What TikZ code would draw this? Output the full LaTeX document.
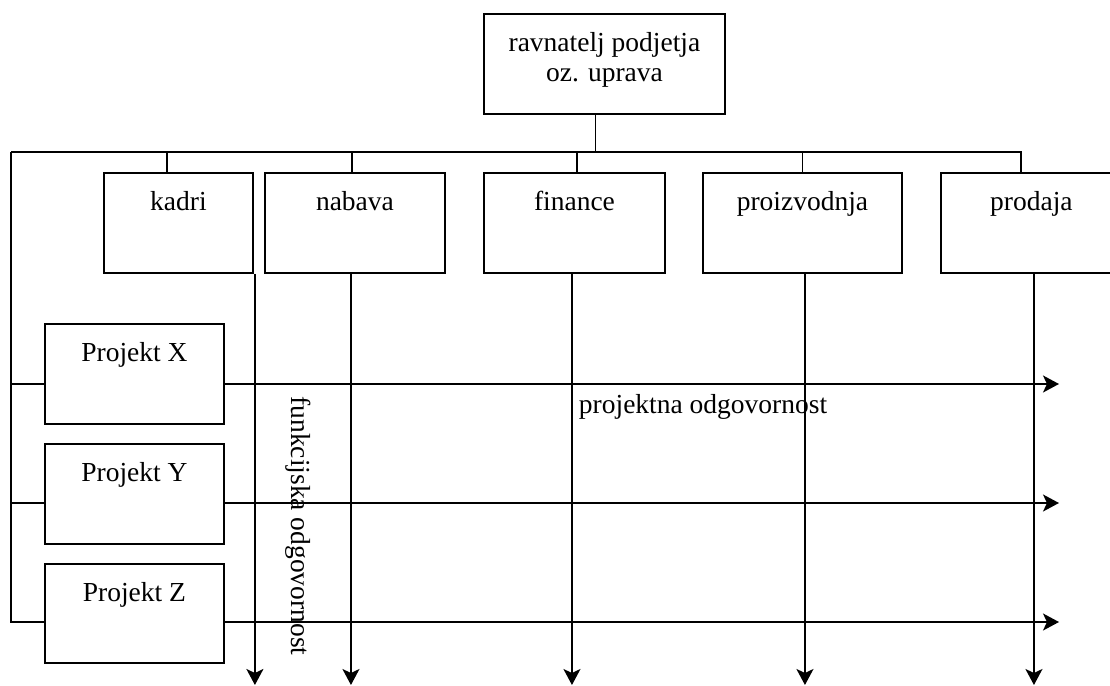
\documentclass[tikz,border=0pt]{standalone}
\usepackage{fontspec}
\setmainfont{Liberation Serif}
\usetikzlibrary{arrows.meta}
\begin{document}
\begin{tikzpicture}[x=1pt,y=-1pt,
  line width=1.9pt,
  unit/.style={draw, rectangle, inner sep=0pt, minimum height=100pt},
  caption/.style={anchor=base, yshift=-38pt, inner sep=0pt, align=center,
    font=\fontsize{27.5}{30.5}\selectfont},
  note/.style={inner sep=0pt, font=\fontsize{27.5}{30.5}\selectfont},
  flow/.style={-{Stealth[length=16pt,width=17pt,inset=4pt]}}]

\clip (0,0) rectangle (1110,685);

% management (base of a two-line caption sits on its last line)
\node[unit, minimum width=241pt, anchor=north west,
  label={[caption, yshift=-30.5pt]north:{ravnatelj podjetja\\oz. uprava}}] (uprava) at (483,13) {};

% functional departments
\node[unit, minimum width=149pt, anchor=north west, label={[caption]north:kadri}] (kadri) at (103,172) {};
\node[unit, minimum width=180pt, anchor=north west, label={[caption]north:nabava}] (nabava) at (264,172) {};
\node[unit, minimum width=181pt, anchor=north west, label={[caption]north:finance}] (finance) at (483,172) {};
\node[unit, minimum width=199pt, anchor=north west, label={[caption]north:proizvodnja}] (proizvodnja) at (702,172) {};
\node[unit, minimum width=181pt, anchor=north west, label={[caption]north:prodaja}] (prodaja) at (940,172) {};

% projects
\node[unit, minimum width=179pt, anchor=north west, label={[caption]north:Projekt X}] (px) at (44,323) {};
\node[unit, minimum width=179pt, anchor=north west, label={[caption]north:Projekt Y}] (py) at (44,443) {};
\node[unit, minimum width=179pt, minimum height=99pt, anchor=north west, label={[caption]north:Projekt Z}] (pz) at (44,563) {};

% connection points
\coordinate (busL) at (11,152);
\coordinate (busR) at (1021,152);
\coordinate (rowX) at (11,384);
\coordinate (rowY) at (11,503);
\coordinate (rowZ) at (11,622);
\coordinate (bot) at (0,685);
\coordinate (rend) at (1059,0);

% line management
\draw ([xshift=-9pt]uprava.south) -- ([xshift=-9pt]uprava.south |- busL);
\draw (busL) -- (busR) -- (busR |- prodaja.north);
\draw ([xshift=-11.5pt]kadri.north) -- ([xshift=-11.5pt]kadri.north |- busL);
\draw ([xshift=-3pt]nabava.north) -- ([xshift=-3pt]nabava.north |- busL);
\draw ([xshift=2.5pt]finance.north) -- ([xshift=2.5pt]finance.north |- busL);
\draw (proizvodnja.north) -- (proizvodnja.north |- busL);

% project branch
\draw (busL) -- (rowZ) -- (pz.west |- rowZ);
\draw (rowX) -- (px.west |- rowX);
\draw (rowY) -- (py.west |- rowY);

% functional responsibility
\draw[flow] ([xshift=1pt]kadri.south east) -- ([xshift=1pt]kadri.south east |- bot);
\draw[flow] ([xshift=-4pt]nabava.south) -- ([xshift=-4pt]nabava.south |- bot);
\draw[flow] ([xshift=-2.5pt]finance.south) -- ([xshift=-2.5pt]finance.south |- bot);
\draw[flow] ([xshift=2.5pt]proizvodnja.south) -- ([xshift=2.5pt]proizvodnja.south |- bot);
\draw[flow] ([xshift=2.5pt]prodaja.south) -- ([xshift=2.5pt]prodaja.south |- bot);

% project responsibility
\draw[flow] (px.east |- rowX) -- (rend |- rowX);
\draw[flow] (py.east |- rowY) -- (rend |- rowY);
\draw[flow] (pz.east |- rowZ) -- (rend |- rowZ);

% captions
\node[note, anchor=base west] (pr) at (578,413) {projektna odgovornost};
\node[note, rotate=-90] (fu) at (298,526) {funkcijska odgovornost};
\end{tikzpicture}
\end{document}
